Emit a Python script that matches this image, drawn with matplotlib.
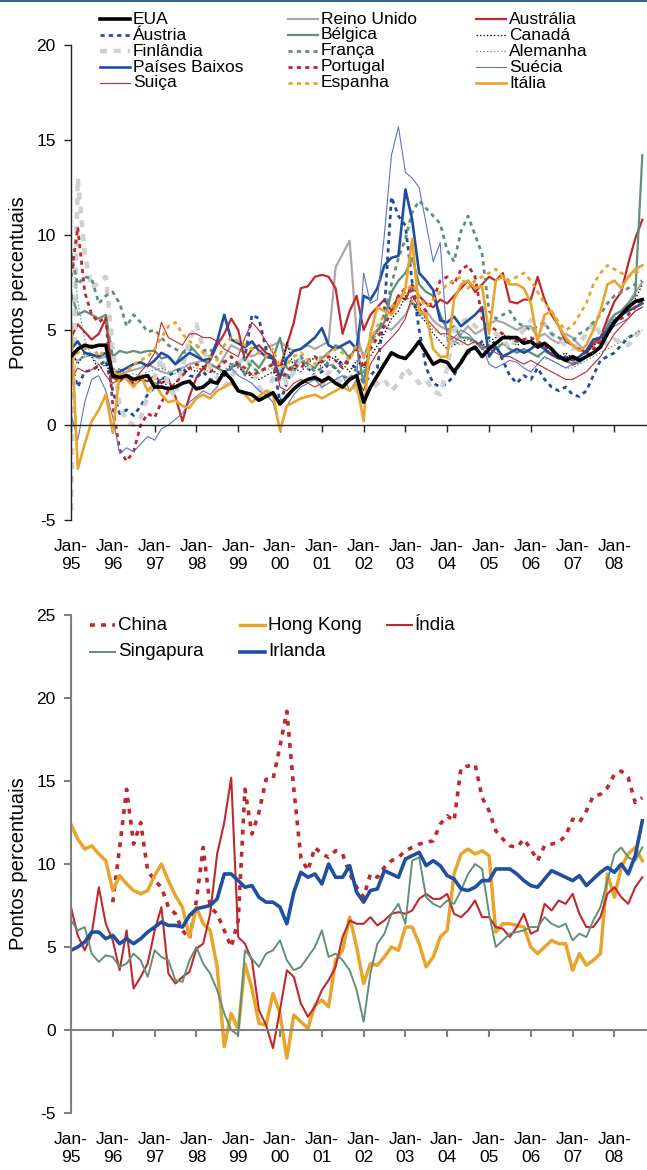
import matplotlib
matplotlib.use("Agg")
import matplotlib.pyplot as plt
import matplotlib.dates as mdates
from matplotlib.lines import Line2D
import numpy as np
import pandas as pd

plt.rcParams['font.family'] = ['Liberation Sans', 'DejaVu Sans']
plt.rcParams['axes.unicode_minus'] = False
plt.rcParams['lines.scale_dashes'] = False

# datas bimestrais (Jan-95 ... Set-08)
datas = pd.date_range('1995-01-01', periods=83, freq='2MS')
anos = pd.date_range('1995-01-01', '2008-01-01', freq='YS')
rotulos_x = ['Jan-\n' + d.strftime('%y') for d in anos]

# ---- painel de cima (pontos percentuais) ----
eua = [3.6, 4.0, 4.2, 4.1, 4.2, 4.2, 2.6, 2.5, 2.6, 2.4, 2.5, 2.6, 2.0, 2.0, 1.9, 2.0, 2.2, 2.3,
       1.9, 2.0, 2.3, 2.2, 2.8, 2.4, 1.8, 1.7, 1.6, 1.3, 1.5, 1.7, 1.1, 1.5, 1.9, 2.2, 2.4, 2.5,
       2.3, 2.5, 2.2, 2.0, 2.4, 2.6, 1.2, 2.0, 2.6, 3.2, 3.8, 3.6, 3.5, 3.9, 4.4, 3.8, 3.2, 3.4,
       3.3, 2.8, 3.3, 3.9, 4.1, 3.6, 4.0, 4.3, 4.6, 4.6, 4.6, 4.3, 4.4, 4.1, 4.3, 4.0, 3.6, 3.4,
       3.6, 3.4, 3.6, 3.8, 4.1, 4.8, 5.4, 5.8, 6.2, 6.5, 6.6]
reino_unido = [3.5, 3.4, 3.6, 3.7, 3.5, 3.6, 3.0, 2.6, 2.8, 2.9, 3.0, 3.2, 3.0, 2.8, 2.7, 2.9, 3.0, 3.2,
               3.3, 3.4, 3.2, 3.0, 3.6, 4.2, 4.0, 3.8, 3.6, 3.8, 4.1, 4.2, 4.4, 4.1, 3.9, 4.0, 4.2, 4.0,
               4.2, 4.4, 8.3, 9.0, 9.7, 4.8, 3.5, 4.6, 5.0, 5.2, 5.0, 5.4, 5.8, 6.5, 5.8, 6.0, 5.5, 5.2,
               5.0, 4.3, 4.8, 5.2, 4.8, 5.0, 5.3, 5.5, 5.4, 5.2, 5.0, 5.2, 5.2, 4.6, 4.8, 4.5, 4.3, 4.8,
               4.6, 4.2, 3.8, 4.2, 4.5, 5.4, 5.8, 6.0, 6.4, 7.0, 7.5]
australia = [4.6, 5.3, 4.9, 4.5, 4.8, 5.6, 2.5, 2.3, 2.6, 2.1, 2.4, 2.3, 2.6, 2.2, 2.4, 1.5, 0.2, 1.5,
             2.5, 3.0, 3.4, 4.2, 4.8, 5.6, 5.0, 3.4, 4.0, 4.2, 3.8, 3.6, 3.0, 4.2, 5.4, 7.2, 7.3, 7.8,
             7.9, 7.8, 7.2, 4.8, 6.0, 6.8, 5.0, 5.8, 6.2, 6.6, 6.0, 6.8, 6.6, 7.4, 6.8, 6.4, 6.2, 6.6,
             6.4, 6.8, 7.2, 7.6, 7.0, 7.4, 7.8, 7.6, 8.0, 6.5, 6.4, 6.6, 6.6, 7.8, 6.6, 5.8, 5.2, 4.4,
             4.2, 4.0, 3.8, 4.3, 4.6, 5.6, 6.5, 7.0, 8.5, 9.8, 10.8]
austria = [3.2, 2.0, 2.8, 2.9, 3.1, 3.4, 1.8, 0.6, 0.8, 0.5, 1.0, 1.6, 2.0, 2.4, 2.6, 2.8, 3.0, 2.6,
           2.5, 2.8, 2.4, 2.3, 2.6, 3.0, 3.2, 3.6, 5.8, 5.6, 4.0, 3.4, 1.2, 2.2, 3.2, 3.4, 3.0, 2.6,
           2.8, 3.2, 3.0, 3.4, 3.2, 3.0, 2.2, 2.6, 3.0, 6.0, 12.0, 11.0, 10.5, 7.5, 5.0, 3.0, 2.2, 2.0,
           2.2, 2.6, 3.4, 3.8, 4.0, 4.4, 4.6, 4.2, 3.4, 2.6, 2.2, 2.6, 2.4, 3.0, 2.4, 2.0, 1.8, 2.0,
           1.6, 1.5, 1.8, 2.6, 3.4, 3.6, 3.8, 4.2, 4.6, 4.8, 5.0]
belgica = [7.0, 5.8, 6.0, 5.8, 5.6, 5.8, 3.6, 3.9, 3.8, 3.9, 3.8, 3.9, 3.9, 3.5, 3.6, 3.2, 3.8, 4.2,
           3.8, 3.4, 3.2, 3.0, 2.8, 3.0, 3.3, 2.6, 3.4, 3.0, 3.6, 3.5, 4.6, 3.0, 2.8, 3.4, 3.2, 3.0,
           3.5, 3.8, 4.2, 4.0, 3.5, 4.2, 2.2, 4.4, 5.0, 5.4, 7.0, 7.6, 8.0, 8.8, 7.4, 7.0, 6.8, 5.8,
           5.0, 5.2, 4.6, 4.6, 4.4, 4.0, 4.2, 4.0, 4.3, 4.0, 3.8, 4.0, 3.8, 3.6, 3.9, 3.7, 3.6, 3.4,
           3.2, 3.3, 3.6, 3.8, 4.2, 5.2, 5.8, 6.0, 6.4, 6.8, 14.2]
canada = [4.0, 3.2, 3.8, 3.6, 2.9, 3.2, 2.5, 3.0, 2.6, 2.2, 2.4, 2.6, 2.2, 2.4, 2.0, 2.2, 2.6, 3.0,
          2.8, 3.1, 3.0, 2.7, 2.6, 3.2, 3.0, 2.8, 2.5, 2.4, 2.6, 2.8, 2.4, 4.4, 3.0, 2.8, 3.2, 3.6,
          3.0, 3.4, 3.6, 3.2, 2.8, 3.4, 3.0, 3.6, 4.2, 4.8, 5.6, 6.0, 6.8, 6.4, 5.8, 5.4, 4.8, 4.4,
          4.0, 4.2, 4.4, 4.5, 4.3, 4.2, 4.4, 4.6, 4.8, 4.5, 4.2, 4.4, 4.5, 4.2, 4.0, 3.8, 3.6, 3.8,
          3.5, 3.6, 3.8, 4.2, 4.4, 5.0, 5.6, 5.8, 6.2, 6.6, 7.4]
finlandia = [-4.5, 13.0, 9.0, 7.2, 7.5, 7.8, 4.0, 1.0, 0.2, 0.0, 0.4, 1.5, 2.5, 3.5, 2.0, 1.5, 3.0, 4.5,
             5.3, 4.0, 3.0, 2.5, 2.0, 2.5, 3.2, 3.6, 3.0, 2.0, 1.5, 2.5, 3.0, 2.2, 2.8, 3.5, 3.2, 2.5,
             2.0, 2.8, 2.5, 2.2, 2.5, 1.8, 1.5, 1.8, 2.2, 2.4, 1.8, 2.2, 3.0, 2.6, 2.2, 2.4, 1.8, 1.6,
             3.0, 5.0, 5.4, 5.6, 5.2, 5.0, 5.2, 4.8, 4.5, 4.0, 4.6, 5.0, 5.5, 5.6, 5.3, 4.8, 4.5, 4.2,
             4.0, 4.3, 4.8, 5.4, 4.8, 4.2, 4.5, 4.4, 4.2, 4.6, 5.2]
franca = [9.0, 7.4, 7.8, 7.7, 6.4, 6.8, 7.0, 6.4, 5.2, 5.8, 5.4, 4.9, 5.0, 4.6, 4.2, 4.0, 3.8, 3.9,
          4.2, 3.9, 4.0, 3.5, 3.3, 3.2, 3.1, 3.5, 3.0, 2.8, 3.0, 3.2, 2.5, 2.6, 3.2, 3.6, 3.2, 2.8,
          3.0, 3.3, 3.0, 2.6, 2.4, 3.0, 2.6, 4.2, 5.0, 5.6, 7.4, 8.8, 9.8, 11.2, 11.8, 11.4, 11.0, 10.6,
          9.2, 8.6, 10.2, 11.0, 10.0, 9.0, 6.0, 5.6, 5.8, 6.0, 5.4, 5.2, 5.0, 5.2, 5.4, 4.8, 4.6, 4.4,
          4.4, 4.8, 5.0, 5.4, 5.8, 6.4, 6.8, 7.0, 7.2, 7.4, 7.6]
alemanha = [9.6, 6.5, 4.5, 3.6, 3.2, 3.4, 3.0, 2.8, 2.6, 2.7, 2.6, 2.8, 2.9, 3.0, 2.8, 2.7, 2.9, 3.1,
            3.0, 2.9, 2.8, 2.7, 2.9, 3.2, 3.1, 2.8, 2.6, 2.7, 2.9, 3.0, 2.8, 3.2, 3.4, 3.5, 3.3, 3.5,
            3.6, 3.2, 3.0, 3.2, 3.4, 4.2, 3.8, 4.2, 4.8, 5.4, 6.2, 6.8, 7.0, 6.6, 6.0, 5.5, 5.0, 4.8,
            4.6, 4.4, 4.2, 4.5, 4.3, 4.1, 4.0, 4.2, 4.3, 4.0, 3.8, 3.9, 3.8, 3.6, 3.5, 3.4, 3.2, 3.0,
            3.0, 3.2, 3.4, 3.6, 3.8, 4.0, 4.2, 4.4, 4.6, 4.8, 5.0]
paises_baixos = [4.0, 4.4, 3.8, 3.7, 3.6, 3.8, 2.7, 2.8, 3.0, 3.2, 3.3, 3.1, 3.4, 3.8, 3.6, 3.2, 3.5, 3.8,
                 3.6, 3.4, 3.5, 4.4, 5.8, 4.5, 4.3, 4.1, 4.4, 3.9, 3.6, 3.5, 2.5, 3.5, 3.9, 4.0, 4.3, 4.6,
                 5.1, 4.2, 4.0, 4.2, 4.4, 4.0, 6.8, 6.6, 7.2, 8.4, 8.8, 8.9, 12.4, 10.8, 8.0, 7.6, 7.1, 5.5,
                 5.4, 5.7, 5.2, 5.5, 5.8, 6.2, 3.6, 4.1, 3.6, 3.8, 4.0, 3.8, 4.0, 4.3, 4.0, 3.7, 3.5, 3.6,
                 3.4, 3.6, 3.9, 4.5, 4.6, 5.0, 5.5, 5.8, 6.0, 6.2, 6.4]
portugal = [7.8, 10.4, 7.0, 5.8, 5.4, 5.7, 1.0, -1.3, -1.9, -1.4, 0.0, 0.6, 0.4, 1.2, 1.8, 2.2, 2.6, 3.0,
            3.2, 3.0, 2.8, 3.0, 3.3, 3.6, 3.2, 3.0, 2.6, 2.8, 3.0, 3.2, 2.4, 2.8, 3.2, 3.0, 3.4, 3.6,
            3.3, 3.6, 3.4, 3.0, 3.6, 4.0, 3.0, 4.0, 4.6, 5.2, 6.0, 6.8, 7.2, 7.0, 6.4, 6.0, 6.6, 7.6,
            7.8, 7.4, 8.2, 8.4, 7.8, 5.6, 5.2, 5.0, 4.8, 4.6, 4.4, 4.5, 4.6, 4.4, 4.2, 3.8, 3.6, 3.4,
            3.2, 3.4, 3.6, 4.0, 4.4, 4.8, 5.4, 5.6, 5.8, 6.2, 6.6]
suecia = [0.6, -0.8, 1.2, 2.4, 2.6, 1.8, 0.4, -1.5, -1.2, -1.4, -1.0, -0.6, -0.8, -0.2, 0.0, 0.3, 0.6, 1.2,
          1.5, 1.8, 1.6, 2.0, 2.8, 3.0, 2.6, 2.4, 2.2, 1.8, 1.6, 1.2, -0.2, 1.0, 1.6, 2.0, 2.2, 2.4,
          2.0, 2.2, 2.4, 2.6, 1.8, 2.4, 8.0, 6.4, 6.6, 10.0, 14.2, 15.7, 13.3, 13.0, 12.5, 10.6, 8.6, 9.6,
          4.4, 4.6, 5.0, 4.8, 4.4, 4.2, 3.2, 3.0, 3.2, 3.4, 3.3, 3.0, 2.8, 3.2, 3.6, 3.4, 3.2, 3.0,
          3.2, 3.4, 3.6, 3.8, 4.2, 5.0, 5.2, 5.4, 5.6, 6.0, 6.2]
suica = [2.4, 3.0, 2.8, 2.9, 3.2, 2.6, 2.2, 2.4, 2.6, 2.3, 2.8, 3.2, 3.8, 5.4, 4.6, 4.4, 4.2, 4.8,
         4.8, 4.6, 4.6, 4.4, 4.0, 3.8, 3.6, 4.6, 5.4, 5.0, 4.4, 3.8, 2.0, 1.8, 2.2, 2.4, 2.2, 2.0,
         2.2, 2.4, 2.2, 1.9, 2.3, 2.6, 1.8, 3.2, 3.8, 4.2, 4.6, 5.0, 5.6, 6.8, 6.2, 5.6, 5.2, 4.8,
         4.8, 4.6, 4.4, 4.2, 4.4, 4.2, 4.0, 3.8, 3.6, 3.6, 3.4, 3.2, 3.4, 3.2, 3.0, 2.8, 2.6, 2.4,
         2.4, 2.6, 2.8, 3.2, 3.6, 4.2, 4.8, 5.2, 5.6, 6.0, 6.2]
espanha = [3.4, 3.8, 4.0, 4.2, 3.6, 4.0, 2.8, 2.6, 2.8, 3.2, 3.4, 3.6, 4.0, 4.6, 5.2, 5.4, 4.8, 4.4,
           4.2, 3.8, 3.6, 3.4, 4.2, 4.6, 4.4, 4.2, 4.0, 3.8, 3.6, 4.0, 3.0, 3.2, 3.6, 3.8, 3.4, 3.2,
           3.6, 3.8, 4.0, 3.8, 3.4, 4.2, 3.6, 4.4, 5.2, 5.8, 6.2, 6.6, 7.0, 7.4, 6.8, 6.2, 6.6, 7.0,
           7.4, 7.6, 7.8, 7.2, 7.6, 7.8, 8.0, 8.2, 7.8, 7.6, 7.8, 8.0, 7.6, 7.0, 6.4, 6.0, 5.4, 5.0,
           5.2, 5.8, 6.4, 7.4, 8.0, 8.4, 8.2, 8.0, 7.8, 8.0, 8.2]
italia = [5.4, -2.3, -1.0, 0.2, 0.8, 1.6, -0.4, 2.7, 2.4, 2.0, 2.6, 1.8, 2.2, 1.6, 1.2, 1.3, 1.0, 0.9,
          1.4, 1.6, 1.4, 1.8, 2.0, 2.2, 1.8, 1.6, 1.2, 1.5, 1.8, 1.6, -0.3, 1.0, 1.2, 1.4, 1.5, 1.6,
          1.4, 1.6, 1.8, 2.0, 1.8, 2.2, 0.2, 4.8, 6.2, 6.0, 5.8, 6.4, 7.2, 9.8, 6.0, 5.8, 4.0, 3.6,
          3.6, 6.6, 7.4, 7.6, 7.2, 7.3, 4.8, 7.6, 7.8, 7.4, 7.4, 7.2, 6.4, 4.4, 5.8, 6.0, 5.2, 4.6,
          4.2, 3.9, 4.2, 5.0, 6.0, 7.4, 7.6, 7.2, 7.8, 8.2, 8.4]

# ---- painel de baixo ----
nan = np.nan
china = [nan, nan, nan, nan, nan, nan, 7.7, 11.0, 14.5, 11.2, 12.5, 9.6, 9.0, 8.6, 7.4, 7.0, 6.0, 5.5,
         7.8, 11.0, 7.4, 7.0, 6.0, 5.0, 6.6, 14.5, 11.8, 13.1, 15.1, 15.1, 17.1, 19.2, 14.5, 10.4, 9.6, 11.0,
         10.6, 10.4, 10.8, 10.6, 9.4, 8.6, 8.0, 9.4, 9.2, 9.8, 10.2, 10.4, 10.8, 11.0, 11.2, 11.3, 11.4, 12.4,
         12.9, 12.6, 15.8, 15.9, 16.0, 14.0, 13.2, 12.0, 11.5, 11.1, 11.0, 11.5, 10.9, 10.2, 11.1, 11.2, 11.3, 11.7,
         12.7, 12.5, 13.2, 14.1, 14.2, 14.6, 15.4, 15.6, 15.2, 13.7, 14.0]
hong_kong = [12.4, 11.5, 10.9, 11.1, 10.6, 10.2, 8.4, 9.3, 8.8, 8.4, 8.2, 8.4, 9.3, 10.0, 9.0, 8.1, 7.4, 5.6,
             7.4, 6.4, 6.0, 3.8, -1.0, 1.0, 0.0, 4.0, 2.5, 0.4, 0.3, 2.2, 1.0, -1.7, 0.9, 0.5, 0.1, 1.5,
             1.8, 1.4, 4.2, 4.8, 6.8, 5.0, 2.8, 4.0, 3.9, 4.4, 5.0, 4.8, 6.2, 6.2, 5.2, 3.8, 4.4, 5.6,
             6.0, 9.4, 10.6, 10.9, 10.6, 10.8, 10.5, 5.9, 6.4, 6.4, 6.3, 6.2, 5.0, 4.6, 5.0, 5.4, 5.2, 5.2,
             3.6, 4.6, 3.9, 4.2, 4.6, 9.4, 8.0, 9.8, 10.6, 11.0, 10.2]
india = [7.4, 5.7, 4.8, 5.8, 8.6, 6.4, 5.4, 3.6, 6.0, 2.5, 3.2, 4.0, 6.0, 7.4, 3.4, 2.8, 3.2, 3.5,
         4.9, 5.2, 7.0, 10.6, 12.5, 15.2, 5.6, 5.2, 4.2, 1.2, 0.3, -1.1, 1.2, 3.6, 3.2, 1.6, 0.8, 1.4,
         2.4, 3.0, 3.8, 5.6, 6.6, 6.4, 6.4, 6.8, 6.3, 6.6, 7.0, 7.1, 7.0, 7.2, 7.9, 8.2, 7.9, 7.9,
         8.2, 7.0, 6.8, 7.2, 7.8, 6.8, 6.8, 6.2, 6.1, 5.6, 6.2, 7.0, 5.8, 6.0, 7.6, 7.2, 7.8, 7.6,
         8.2, 7.0, 6.2, 6.2, 6.8, 8.2, 8.6, 8.0, 7.6, 8.6, 9.2]
singapura = [6.6, 6.0, 6.2, 4.6, 4.1, 4.5, 4.4, 3.8, 4.0, 4.6, 4.2, 3.2, 4.8, 4.4, 4.2, 3.0, 2.9, 4.2,
             5.0, 4.0, 3.4, 2.4, 1.0, 0.0, -0.3, 4.8, 4.3, 3.8, 4.6, 4.8, 5.4, 4.2, 3.6, 3.8, 4.4, 5.0,
             6.0, 4.4, 4.6, 4.2, 3.6, 2.4, 0.5, 3.4, 5.2, 5.8, 7.0, 7.6, 6.4, 10.2, 10.4, 8.0, 7.6, 7.4,
             7.8, 7.6, 8.4, 9.4, 10.0, 9.7, 7.0, 5.0, 5.4, 5.8, 5.9, 6.0, 6.2, 6.2, 6.8, 6.4, 6.2, 6.4,
             5.4, 5.8, 5.6, 6.6, 7.4, 9.0, 10.6, 11.0, 10.4, 10.2, 11.0]
irlanda = [4.8, 5.0, 5.3, 5.9, 5.9, 5.5, 5.7, 5.2, 5.5, 5.2, 5.5, 5.9, 6.2, 6.5, 6.3, 6.3, 6.2, 6.9,
           7.3, 7.4, 7.5, 7.9, 9.4, 9.4, 9.0, 8.6, 8.7, 8.0, 7.7, 7.7, 7.4, 6.4, 8.3, 9.5, 9.2, 9.4,
           8.8, 10.0, 9.2, 9.2, 9.9, 8.3, 7.7, 8.4, 8.5, 9.6, 9.4, 9.2, 10.3, 10.5, 10.7, 9.9, 10.2, 9.9,
           9.3, 9.1, 8.5, 8.4, 8.6, 9.0, 9.0, 9.7, 9.7, 9.7, 9.4, 9.0, 8.7, 8.6, 9.1, 9.6, 9.4, 9.2,
           9.0, 9.3, 8.7, 9.1, 9.5, 9.8, 9.5, 10.0, 9.4, 10.5, 12.6]

# cores
VERMELHO = '#c0282e'
AZUL = '#1f4fa3'
VERDE = '#5f917a'
LARANJA = '#e9a42c'
CINZA = '#a9a9a9'
CINZA_CLARO = '#d0d0d0'
LILAS = '#5f74c4'
TRACO = (0, (3, 3))
PONTO = (0, (1, 1.5))

# ordem por linha, como na legenda original
series_topo = [
    ('EUA', eua, dict(color='black', lw=2.6, zorder=5)),
    ('Reino Unido', reino_unido, dict(color=CINZA, lw=1.6)),
    ('Austrália', australia, dict(color=VERMELHO, lw=1.6)),
    ('Áustria', austria, dict(color=AZUL, lw=2.0, ls=TRACO)),
    ('Bélgica', belgica, dict(color=VERDE, lw=1.6)),
    ('Canadá', canada, dict(color='black', lw=0.9, ls=PONTO)),
    ('Finlândia', finlandia, dict(color=CINZA_CLARO, lw=3.2, ls=(0, (5, 5)))),
    ('França', franca, dict(color=VERDE, lw=2.0, ls=TRACO)),
    ('Alemanha', alemanha, dict(color=VERDE, lw=0.9, ls=PONTO)),
    ('Países Baixos', paises_baixos, dict(color=AZUL, lw=1.9)),
    ('Portugal', portugal, dict(color=VERMELHO, lw=2.0, ls=TRACO)),
    ('Suécia', suecia, dict(color=LILAS, lw=0.8)),
    ('Suiça', suica, dict(color=VERMELHO, lw=0.8)),
    ('Espanha', espanha, dict(color=LARANJA, lw=2.0, ls=TRACO)),
    ('Itália', italia, dict(color=LARANJA, lw=1.9)),
]
series_baixo = [
    ('China', china, dict(color=VERMELHO, lw=2.6, ls=(0, (3.5, 4.5)))),
    ('Hong Kong', hong_kong, dict(color=LARANJA, lw=2.5)),
    ('Índia', india, dict(color=VERMELHO, lw=1.5)),
    ('Singapura', singapura, dict(color=VERDE, lw=1.4)),
    ('Irlanda', irlanda, dict(color=AZUL, lw=2.6)),
]

W, H = 647, 1170
fig = plt.figure(figsize=(W / 100, H / 100), dpi=100)

# linha azul no topo da figura
fig.add_artist(Line2D([0, 1], [1 - 1 / H, 1 - 1 / H], transform=fig.transFigure, color='#2f6496', lw=1.5))

x_esq = 71 / W
largura = 574.75 / W
ax1 = fig.add_axes([x_esq, (H - 520) / H, largura, 475 / H])
ax2 = fig.add_axes([x_esq, (H - 1113) / H, largura, 498 / H])


def formatar_eixo(ax, yticks, cor_eixo, lw_eixo):
    ax.set_xlim(pd.Timestamp('1995-01-01'), pd.Timestamp('2008-10-01'))
    ax.set_ylim(yticks[0], yticks[-1])
    ax.set_yticks(yticks)
    ax.spines['top'].set_visible(False)
    ax.spines['right'].set_visible(False)
    ax.spines['bottom'].set_position(('data', 0))
    for s in ('left', 'bottom'):
        ax.spines[s].set_color(cor_eixo)
        ax.spines[s].set_linewidth(lw_eixo)
    ax.set_xticks(anos)
    ax.tick_params(axis='x', labelbottom=False, direction='out', length=5, color=cor_eixo, width=lw_eixo)
    ax.tick_params(axis='y', direction='out', length=5, pad=6, labelsize=12.5, color=cor_eixo, width=lw_eixo)
    # rotulos Jan-xx na base do grafico
    sec = ax.secondary_xaxis('bottom')
    sec.set_xticks(mdates.date2num(anos), rotulos_x)
    sec.tick_params(length=0, pad=14, labelsize=12.5)
    sec.spines['bottom'].set_visible(False)
    ax.set_ylabel('Pontos percentuais', fontsize=14.5)
    ax.yaxis.set_label_coords((28 - 71) / 574.75, 0.5)


def legenda(itens, xs, ys, comp, tamanho):
    ncol = len(xs)
    for k, (nome, _, estilo) in enumerate(itens):
        x0 = xs[k % ncol]
        y = 1 - ys[k // ncol] / H
        est = {c: v for c, v in estilo.items() if c != 'zorder'}
        fig.add_artist(Line2D([x0 / W, (x0 + comp) / W], [y, y], transform=fig.transFigure, **est))
        fig.text((x0 + comp + 3) / W, y, nome, va='center', ha='left', fontsize=tamanho)


for nome, valores, estilo in series_topo:
    ax1.plot(datas, valores, **estilo)
formatar_eixo(ax1, [-5, 0, 5, 10, 15, 20], '#222222', 1.0)

for nome, valores, estilo in series_baixo:
    ax2.plot(datas, valores, **estilo)
formatar_eixo(ax2, [-5, 0, 5, 10, 15, 20, 25], '#808080', 1.5)

legenda(series_topo, [100, 288, 476], [19, 35, 51, 67, 83], 30, 12.5)
legenda(series_baixo, [90, 240, 387], [625, 652], 25, 13.5)

fig.savefig('out.png', dpi=100)
